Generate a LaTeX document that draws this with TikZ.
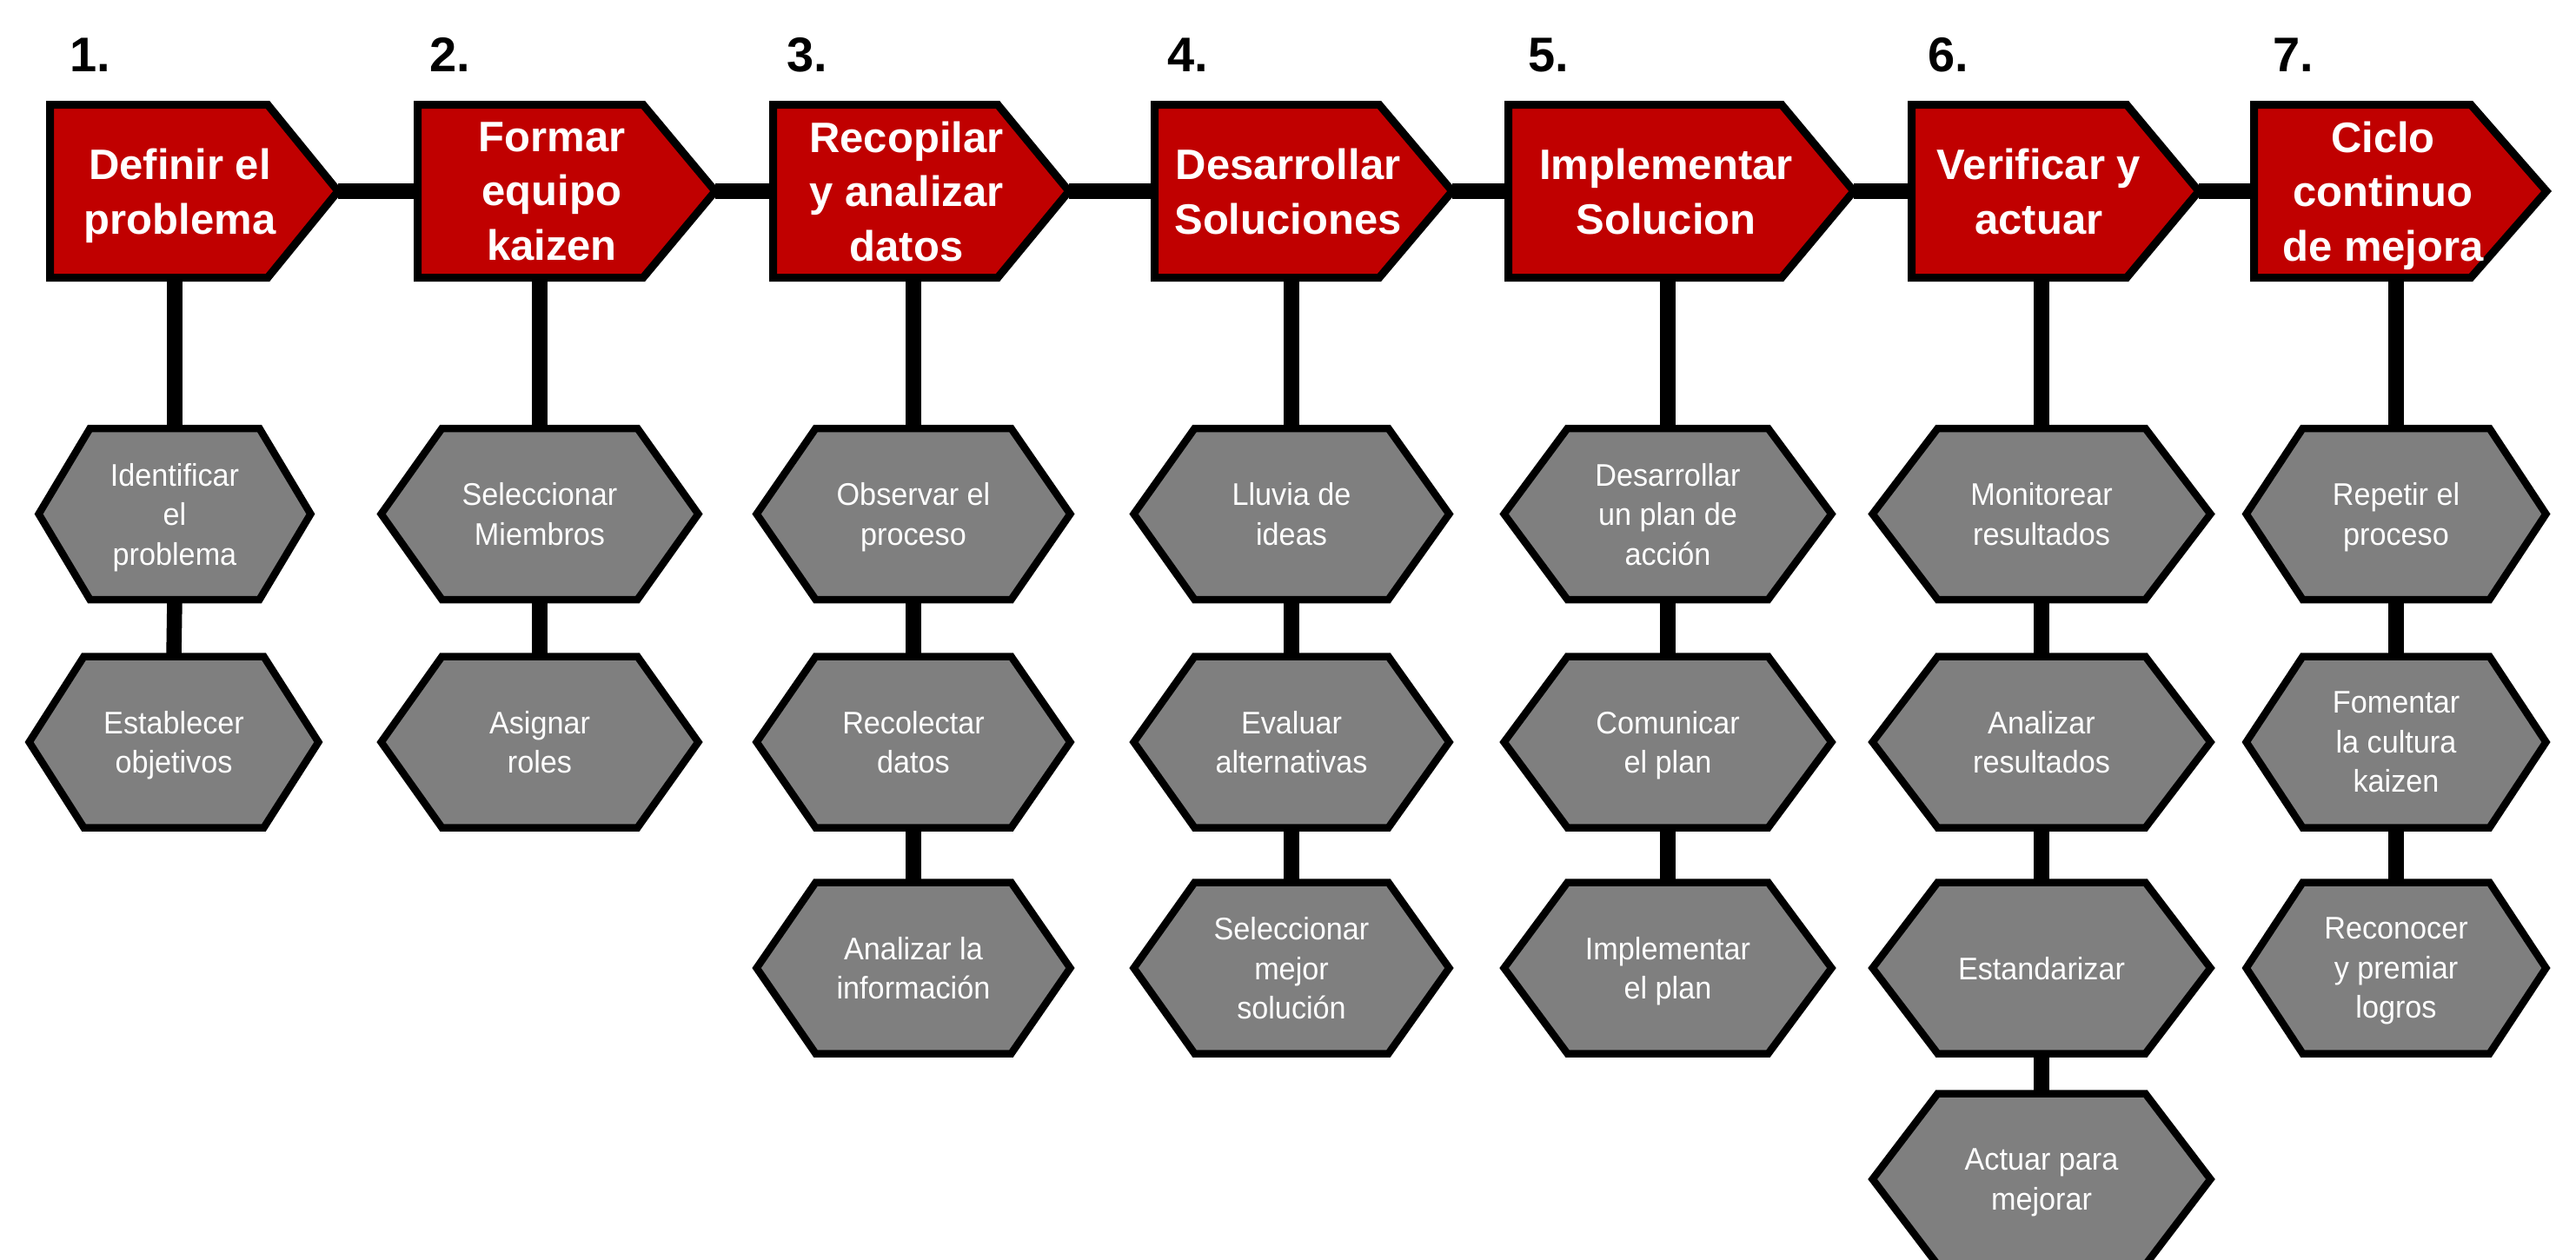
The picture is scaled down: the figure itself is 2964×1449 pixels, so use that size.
\documentclass[tikz,border=0pt]{standalone}
\usepackage{fontspec}
\setmainfont{Liberation Sans}
\newfontfamily\hexfont[FakeStretch=0.95]{Liberation Sans}
\usetikzlibrary{calc}
\pgfdeclarelayer{bg}
\pgfsetlayers{bg,main}
\definecolor{stepred}{HTML}{C00000}
\definecolor{hexgray}{HTML}{7F7F7F}
\tikzset{
 conn/.style={line width=17.5pt, black},
 redshape/.style={fill=stepred, draw=black, line width=9pt, line join=miter},
 hexshape/.style={fill=hexgray, draw=black, line width=8.5pt, line join=miter},
 boxnode/.style={draw=none, inner sep=0pt, outer sep=0pt, minimum height=199pt},
 hexnode/.style={draw=none, inner sep=0pt, outer sep=0pt, minimum height=197pt, align=center, text=white, text depth=0pt, font=\hexfont\fontsize{36}{45.5}\selectfont},
 headtext/.style={inner sep=0pt, align=center, text=white, text depth=0pt, font=\bfseries\fontsize{49}{62.5}\selectfont},
 numtext/.style={inner sep=0pt, anchor=base west, font=\bfseries\fontsize{56}{60}\selectfont},
}
% red step box: name, left outer, rect right outer, tip outer, text x, text
\newcommand\stepbox[6]{%
  \node[boxnode, minimum width={(#4-7)-(#2+4.5)}] (#1) at ({((#4-7)+(#2+4.5))/2},220) {};
  \pgfmathsetmacro\bxrw{#3-2-(#2+4.5)}
  \begin{pgfonlayer}{bg}
  \draw[redshape] (#1.north west) -- ($(#1.north west)+(\bxrw,0)$) -- (#1.east)
     -- ($(#1.south west)+(\bxrw,0)$) -- (#1.south west) -- cycle;
  \end{pgfonlayer}
  \node[headtext] (#1t) at (#5,220) {#6};
}
% hexagon: name, cx, cy, half width outer, half top edge outer, text
\newcommand\hexa[6]{%
  \node[hexnode, minimum width={2*(#4-7.6)}] (#1) at (#2,#3) {#6};
  \pgfmathsetmacro\hxsl{#4-#5-6.1}
  \begin{pgfonlayer}{bg}
  \draw[hexshape] (#1.west) -- ($(#1.north west)+(\hxsl,0)$) -- ($(#1.north east)+(-\hxsl,0)$)
     -- (#1.east) -- ($(#1.south east)+(-\hxsl,0)$) -- ($(#1.south west)+(\hxsl,0)$) -- cycle;
  \end{pgfonlayer}
}
\begin{document}
\begin{tikzpicture}[x=1pt,y=-1pt]
\useasboundingbox (0,0) rectangle (2964,1449);
\begin{pgfonlayer}{bg}
\fill[white] (0,0) rectangle (2964,1449);
\end{pgfonlayer}
\clip (0,0) rectangle (2964,1449);

% numbers
\node[numtext] (n1) at (80,82) {1.};
\node[numtext] (n2) at (494,82) {2.};
\node[numtext] (n3) at (905,82) {3.};
\node[numtext] (n4) at (1343,82) {4.};
\node[numtext] (n5) at (1758,82) {5.};
\node[numtext] (n6) at (2218,82) {6.};
\node[numtext] (n7) at (2615,82) {7.};

% step boxes
\stepbox{b1}{53}{310}{396}{207}{Definir el\\problema}
\stepbox{b2}{476}{742}{830}{635}{Formar\\equipo\\kaizen}
\stepbox{b3}{885}{1150}{1237}{1043}{Recopilar\\y analizar\\datos}
\stepbox{b4}{1324}{1589}{1678}{1482}{Desarrollar\\Soluciones}
\stepbox{b5}{1731}{2052}{2140}{1917}{Implementar\\Solucion}
\stepbox{b6}{2195}{2449}{2537}{2346}{Verificar y\\actuar}
\stepbox{b7}{2589}{2845}{2937}{2742}{Ciclo\\continuo\\de mejora}

% hexagons
\hexa{h11}{201}{591.5}{164}{99}{Identificar\\el\\problema}
\hexa{h12}{200}{854}{174}{105}{Establecer\\objetivos}

\hexa{h21}{621}{591.5}{190}{114}{Seleccionar\\Miembros}
\hexa{h22}{621}{854}{190}{114}{Asignar\\roles}

\hexa{h31}{1051}{591.5}{188}{114}{Observar el\\proceso}
\hexa{h32}{1051}{854}{188}{114}{Recolectar\\datos}
\hexa{h33}{1051}{1114}{188}{114}{Analizar la\\información}

\hexa{h41}{1486}{591.5}{189}{113}{Lluvia de\\ideas}
\hexa{h42}{1486}{854}{189}{113}{Evaluar\\alternativas}
\hexa{h43}{1486}{1114}{189}{113}{Seleccionar\\mejor\\solución}

\hexa{h51}{1919}{591.5}{196}{117}{Desarrollar\\un plan de\\acción}
\hexa{h52}{1919}{854}{196}{117}{Comunicar\\el plan}
\hexa{h53}{1919}{1114}{196}{117}{Implementar\\el plan}

\hexa{h61}{2349}{591.5}{202}{121}{Monitorear\\resultados}
\hexa{h62}{2349}{854}{202}{121}{Analizar\\resultados}
\hexa{h63}{2349}{1114}{202}{121}{Estandarizar}
\hexa{h64}{2349}{1357}{202}{121}{Actuar para\\mejorar}

\hexa{h71}{2757}{591.5}{180}{109}{Repetir el\\proceso}
\hexa{h72}{2757}{854}{180}{109}{Fomentar\\la cultura\\kaizen}
\hexa{h73}{2757}{1114}{180}{109}{Reconocer\\y premiar\\logros}

% horizontal connectors
\draw[conn] (b1.east) -- (b2.west);
\draw[conn] (b2.east) -- (b3.west);
\draw[conn] (b3.east) -- (b4.west);
\draw[conn] (b4.east) -- (b5.west);
\draw[conn] (b5.east) -- (b6.west);
\draw[conn] (b6.east) -- (b7.west);

% vertical connectors
\draw[conn] (b1.south -| h11.north) -- (h11.north);
\draw[conn] (h11.south) -- (h12.north);
\draw[conn] (b2.south -| h21.north) -- (h21.north);
\draw[conn] (h21.south) -- (h22.north);
\draw[conn] (b3.south -| h31.north) -- (h31.north);
\draw[conn] (h31.south) -- (h32.north);
\draw[conn] (h32.south) -- (h33.north);
\draw[conn] (b4.south -| h41.north) -- (h41.north);
\draw[conn] (h41.south) -- (h42.north);
\draw[conn] (h42.south) -- (h43.north);
\draw[conn] (b5.south -| h51.north) -- (h51.north);
\draw[conn] (h51.south) -- (h52.north);
\draw[conn] (h52.south) -- (h53.north);
\draw[conn] (b6.south -| h61.north) -- (h61.north);
\draw[conn] (h61.south) -- (h62.north);
\draw[conn] (h62.south) -- (h63.north);
\draw[conn] (h63.south) -- (h64.north);
\draw[conn] (b7.south -| h71.north) -- (h71.north);
\draw[conn] (h71.south) -- (h72.north);
\draw[conn] (h72.south) -- (h73.north);
\end{tikzpicture}
\end{document}
